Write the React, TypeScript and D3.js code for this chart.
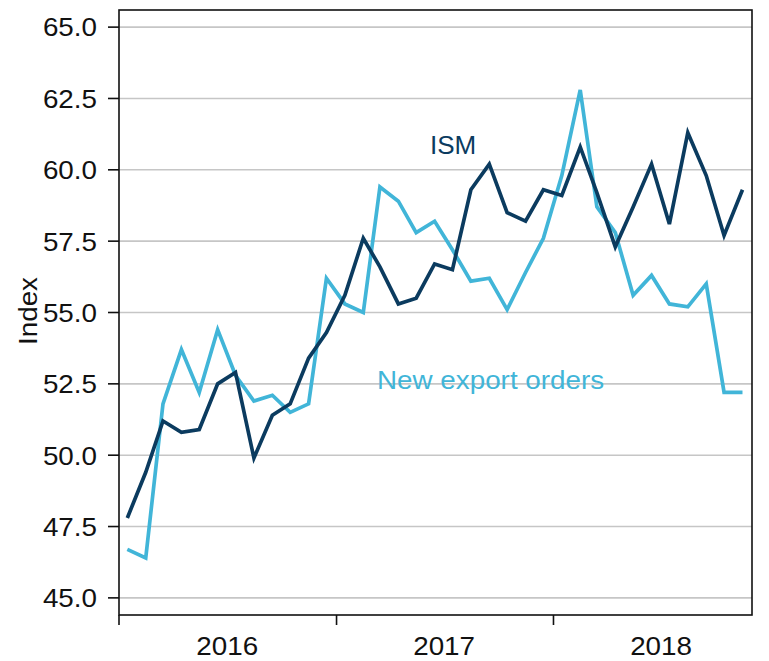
import * as d3 from 'd3'

// monthly readings, Jan 2016 .. Nov 2018
const startYear = 2016
const ism = [47.8, 49.4, 51.2, 50.8, 50.9, 52.5, 52.9, 49.9, 51.4, 51.8, 53.4, 54.3,
  55.6, 57.6, 56.6, 55.3, 55.5, 56.7, 56.5, 59.3, 60.2, 58.5, 58.2, 59.3,
  59.1, 60.8, 59.2, 57.3, 58.7, 60.2, 58.1, 61.3, 59.8, 57.7, 59.3]
const exportOrders = [46.7, 46.4, 51.8, 53.7, 52.2, 54.4, 52.8, 51.9, 52.1, 51.5, 51.8, 56.2,
  55.3, 55.0, 59.4, 58.9, 57.8, 58.2, 57.2, 56.1, 56.2, 55.1, 56.4, 57.6,
  59.8, 62.8, 58.7, 57.8, 55.6, 56.3, 55.3, 55.2, 56.0, 52.2, 52.2]
const yearTicks = [2016, 2017, 2018]
const yTicks = [45, 47.5, 50, 52.5, 55, 57.5, 60, 62.5, 65]

const W = 769
const H = 661
const FONT = '"Liberation Sans", Arial, sans-serif'
const DARK = '#0b3b5f'
const LIGHT = '#41b5d8'
const SX = 1.07 // text in the source is a touch wider than plain Arial

export default function App() {
  const left = 119, right = 752, top = 10, bottom = 615

  const monthDate = (i: number) => new Date(startYear, i, 15)

  const x = d3.scaleTime()
    .domain([new Date(2016, 0, 1), new Date(2018, 11, 1)])
    .range([left, right])
  const y = d3.scaleLinear().domain([44.4, 65.6]).range([bottom, top])

  const line = d3.line<number>()
    .x((_, i) => x(monthDate(i)))
    .y(d => y(d))

  return (
    <svg width={W} height={H} style={{ position: 'absolute', left: 0, top: 0, background: '#fff' }}
      fontFamily={FONT}>
      {/* grid */}
      {yTicks.map(t => (
        <line key={'g' + t} x1={left} x2={right} y1={y(t)} y2={y(t)} stroke="#c6c6c6" strokeWidth={1.6} />
      ))}

      {/* series */}
      <path d={line(exportOrders) ?? ''} fill="none" stroke={LIGHT} strokeWidth={3.7} />
      <path d={line(ism) ?? ''} fill="none" stroke={DARK} strokeWidth={3.7} />

      {/* frame */}
      <rect x={left} y={top} width={right - left} height={bottom - top} fill="none" stroke="#111" strokeWidth={1.6} />

      {/* y axis */}
      {yTicks.map(t => (
        <g key={'y' + t}>
          <line x1={left - 11} x2={left} y1={y(t)} y2={y(t)} stroke="#111" strokeWidth={1.6} />
          <text transform={`translate(97,${y(t)}) scale(${SX},1)`} dy="0.36em" textAnchor="end" fontSize={26} fill="#111">{t.toFixed(1)}</text>
        </g>
      ))}
      <text transform={`translate(37,311) rotate(-90) scale(${SX},1)`} textAnchor="middle" fontSize={26} fill="#111">Index</text>

      {/* x axis */}
      {yearTicks.map(yr => (
        <g key={'x' + yr}>
          <line x1={x(new Date(yr, 0, 1))} x2={x(new Date(yr, 0, 1))} y1={bottom} y2={bottom + 10} stroke="#111" strokeWidth={1.6} />
          <text transform={`translate(${x(new Date(yr, 6, 1))},655) scale(${SX},1)`} textAnchor="middle" fontSize={26} fill="#111">{yr}</text>
        </g>
      ))}

      {/* labels */}
      <text x={430} y={154} fontSize={26} fill={DARK}>ISM</text>
      <text transform={`translate(377,389) scale(${SX},1)`} fontSize={26} fill={LIGHT}>New export orders</text>
    </svg>
  )
}
